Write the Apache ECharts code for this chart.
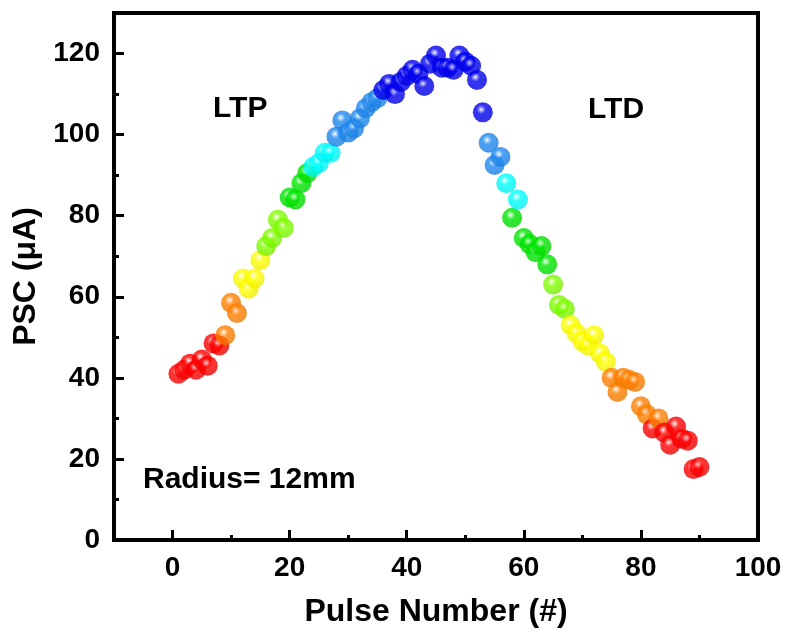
<!DOCTYPE html>
<html>
<head>
<meta charset="utf-8">
<script src="https://cdn.jsdelivr.net/npm/echarts@6/dist/echarts.min.js"></script>
<style>
  html, body { margin: 0; padding: 0; background: #ffffff; }
  #chart { width: 790px; height: 634px; }
</style>
</head>
<body>
<div id="chart"></div>
<script>
// Pulse index (x) and post-synaptic current in µA (y)
const pulseNumber = [
  1, 2, 3, 4, 5, 6, 7, 8, 9, 10,
  11, 12, 13, 14, 15, 16, 17, 18, 19, 20,
  21, 22, 23, 24, 25, 26, 27, 28, 29, 30,
  31, 32, 33, 34, 35, 36, 37, 38, 39, 40,
  41, 42, 43, 44, 45, 46, 47, 48, 49, 50,
  51, 52, 53, 54, 55, 56, 57, 58, 59, 60,
  61, 62, 63, 64, 65, 66, 67, 68, 69, 70,
  71, 72, 73, 74, 75, 76, 77, 78, 79, 80,
  81, 82, 83, 84, 85, 86, 87, 88, 89, 90
];
const pscValues = [
  41, 42, 43.5, 42, 44.5, 43, 48.5, 48, 50.5, 58.5,
  56, 64.5, 62, 64.5, 69, 72.5, 74.5, 79, 77, 84.5,
  84, 88, 90.5, 92, 93, 95.5, 95.5, 99.5, 103.5, 100.5,
  101.5, 104, 106.5, 108, 109, 111, 112.5, 110, 113, 114.5,
  116, 115, 112, 117.5, 119.5, 116.5, 116.5, 116, 119.5, 118,
  117, 113.5, 105.5, 98, 92.5, 94.5, 88, 79.5, 84, 74.5,
  73, 71, 72.5, 68, 63, 58, 57, 53, 51, 49,
  48, 50.5, 46, 44, 40, 36.5, 40, 39.5, 39, 33,
  31, 27.5, 30, 26.5, 23.5, 28, 25, 24.5, 17.5, 18
];
// Colour band of every pulse (index into bandColors)
const colorBand = [
  0, 0, 0, 0, 0, 0, 0, 0, 1, 1,
  1, 2, 2, 2, 2, 3, 3, 3, 3, 4,
  4, 4, 4, 5, 5, 5, 5, 6, 6, 6,
  6, 6, 6, 6, 6, 7, 7, 7, 7, 7,
  7, 7, 7, 7, 7, 7, 7, 7, 7, 7,
  7, 7, 7, 6, 6, 6, 5, 4, 5, 4,
  4, 4, 4, 4, 3, 3, 3, 2, 2, 2,
  2, 2, 2, 2, 1, 1, 1, 1, 1, 1,
  1, 0, 1, 0, 0, 0, 0, 0, 0, 0
];
const bandColors = ['#ff0000', '#ff8000', '#ffff00', '#80ff00', '#00e600', '#00ffff', '#1e88f0', '#0000f0'];

const xTickLabels = [0, 20, 40, 60, 80, 100];
const xMinorTicks = [10, 30, 50, 70, 90];
const yTickLabels = [0, 20, 40, 60, 80, 100, 120];
const yMinorTicks = [10, 30, 50, 70, 90, 110];

const FONT = 'Liberation Sans, Arial, sans-serif';

function mix(hex, target, t) {
  const a = parseInt(hex.slice(1), 16);
  const r = (a >> 16) & 255, g = (a >> 8) & 255, b = a & 255;
  const m = (c, d) => Math.round(c + (d - c) * t);
  return 'rgb(' + m(r, target) + ',' + m(g, target) + ',' + m(b, target) + ')';
}

// Glossy sphere fill for each band
function ballFill(hex) {
  return {
    type: 'radial', x: 0.42, y: 0.36, r: 0.7,
    colorStops: [
      { offset: 0, color: 'rgba(255,255,255,0.95)' },
      { offset: 0.14, color: mix(hex, 255, 0.5) },
      { offset: 0.32, color: hex },
      { offset: 1, color: mix(hex, 0, 0.08) }
    ]
  };
}

const points = pulseNumber.map((p, i) => ({
  value: [p, pscValues[i]],
  itemStyle: { color: ballFill(bandColors[colorBand[i]]) }
}));

const axisLine = { show: true, onZero: false, lineStyle: { color: '#000', width: 4 } };
const hiddenLine = { show: false, onZero: false };
const labelStyle = { color: '#000', fontSize: 28, fontWeight: 'bold', fontFamily: FONT };
const nameStyle = { color: '#000', fontSize: 32, fontWeight: 'bold', fontFamily: FONT };

const chart = echarts.init(document.getElementById('chart'), null, { renderer: 'canvas' });
chart.setOption({
  backgroundColor: '#ffffff',
  animation: false,
  grid: {
    left: 114, right: 32, top: 13, bottom: 94,
    show: true, borderColor: '#000', borderWidth: 4,
    containLabel: false, outerBoundsMode: 'none'
  },
  xAxis: [
    {
      type: 'value', min: -10, max: 100, position: 'bottom',
      axisLine: axisLine,
      axisTick: { show: true, inside: true, length: 10, customValues: xTickLabels, lineStyle: { color: '#000', width: 3 } },
      axisLabel: Object.assign({ customValues: xTickLabels, margin: 14 }, labelStyle),
      splitLine: { show: false },
      name: 'Pulse Number (#)', nameLocation: 'middle', nameGap: 56,
      nameTextStyle: nameStyle
    },
    {
      type: 'value', min: -10, max: 100, position: 'bottom',
      axisLine: hiddenLine,
      axisTick: { show: true, inside: true, length: 5, customValues: xMinorTicks, lineStyle: { color: '#000', width: 3 } },
      axisLabel: { show: false },
      splitLine: { show: false }
    }
  ],
  yAxis: [
    {
      type: 'value', min: 0, max: 130, position: 'left',
      axisLine: axisLine,
      axisTick: { show: true, inside: true, length: 10, customValues: yTickLabels, lineStyle: { color: '#000', width: 3 } },
      axisLabel: Object.assign({ customValues: yTickLabels, margin: 14 }, labelStyle),
      splitLine: { show: false },
      name: 'PSC (μA)', nameLocation: 'middle', nameGap: 64, nameRotate: 90,
      nameTextStyle: nameStyle
    },
    {
      type: 'value', min: 0, max: 130, position: 'left',
      axisLine: hiddenLine,
      axisTick: { show: true, inside: true, length: 5, customValues: yMinorTicks, lineStyle: { color: '#000', width: 3 } },
      axisLabel: { show: false },
      splitLine: { show: false }
    }
  ],
  graphic: [
    { type: 'text', left: 213, top: 94, style: { text: 'LTP', font: 'bold 30px ' + FONT, fill: '#000' } },
    { type: 'text', left: 588, top: 95, style: { text: 'LTD', font: 'bold 30px ' + FONT, fill: '#000' } },
    { type: 'text', left: 143, top: 465, style: { text: 'Radius= 12mm', font: 'bold 30px ' + FONT, fill: '#000' } }
  ],
  series: [
    {
      type: 'scatter', xAxisIndex: 0, yAxisIndex: 0,
      symbol: 'circle', symbolSize: 20,
      data: points
    }
  ]
});
</script>
</body>
</html>
